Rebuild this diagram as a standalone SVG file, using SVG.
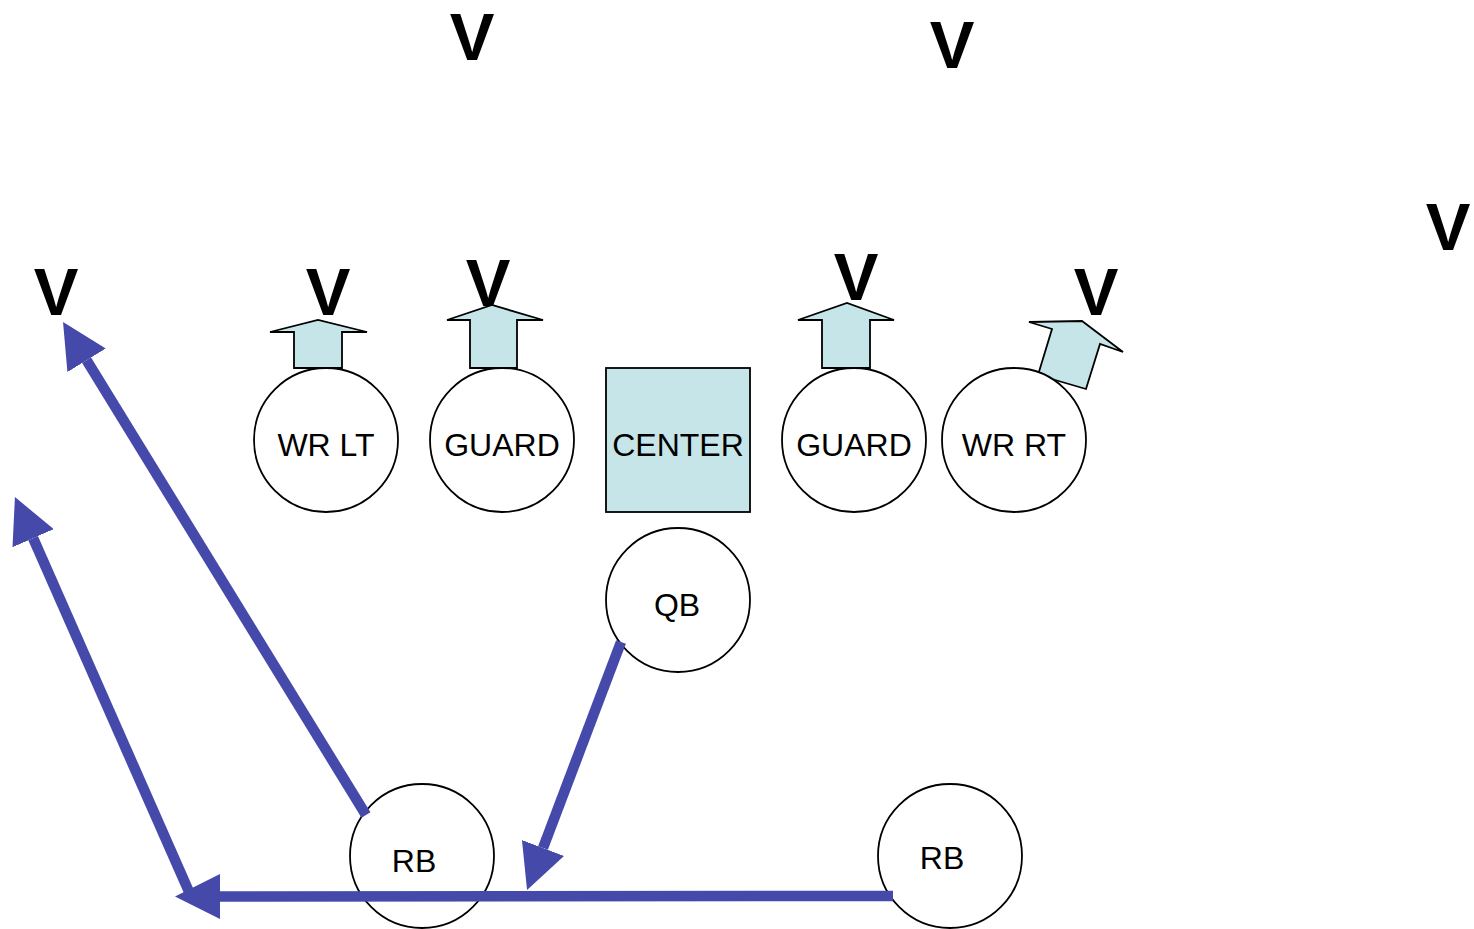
<svg xmlns="http://www.w3.org/2000/svg" width="1474" height="929" viewBox="0 0 1474 929">
<style>
.node{fill:#ffffff;stroke:#000000;stroke-width:1.8}
.box{fill:#C6E5E8;stroke:#000000;stroke-width:1.8}
.blk{fill:#C6E5E8;stroke:#000000;stroke-width:1.8;stroke-linejoin:miter}
.lbl{font-family:"Liberation Sans",Arial,sans-serif;font-size:32px;fill:#000000;text-anchor:middle}
.v{font-family:"Liberation Sans",Arial,sans-serif;font-size:67px;font-weight:bold;fill:#000000;text-anchor:middle}
.run{fill:none;stroke:#4449AA;stroke-width:10.5;marker-end:url(#ah)}
</style>
<defs>
<marker id="ah" markerUnits="userSpaceOnUse" markerWidth="45" markerHeight="45" viewBox="0 0 45 45" refX="0" refY="22.5" orient="auto">
<path d="M0,0 L45,22.5 L0,45 z" fill="#4449AA"/>
</marker>
</defs>
<g id="defenders">
<text class="v" x="472" y="60">V</text>
<text class="v" x="952" y="68">V</text>
<text class="v" x="1448" y="250">V</text>
<text class="v" x="56" y="315">V</text>
<text class="v" x="328" y="315">V</text>
<text class="v" x="488" y="306">V</text>
<text class="v" x="856" y="300">V</text>
<text class="v" x="1096" y="315">V</text>
</g>
<g id="block-arrows">
<polygon class="blk" points="294,368 294,332 270,332 318,320 367,332 342,332 342,368"/>
<polygon class="blk" points="470,368 470,320 447,320 492,305 543,320 517,320 517,368"/>
<polygon class="blk" points="822,368 822,320 798,320 847,303 894,320 870,320 870,368"/>
<polygon class="blk" points="1038,375 1052,329 1029,322 1082,321 1123,352 1100,344 1086,389"/>
</g>
<g id="wr-lt"><circle class="node" cx="326" cy="440" r="72"/><text class="lbl" x="326" y="456">WR LT</text></g>
<g id="guard-left"><circle class="node" cx="502" cy="440" r="72"/><text class="lbl" x="502" y="456">GUARD</text></g>
<g id="center"><rect class="box" x="606" y="368" width="144" height="144"/><text class="lbl" x="678" y="456">CENTER</text></g>
<g id="guard-right"><circle class="node" cx="854" cy="440" r="72"/><text class="lbl" x="854" y="456">GUARD</text></g>
<g id="wr-rt"><circle class="node" cx="1014" cy="440" r="72"/><text class="lbl" x="1014" y="456">WR RT</text></g>
<g id="qb"><circle class="node" cx="678" cy="600" r="72"/><text class="lbl" x="677" y="616">QB</text></g>
<g id="rb-left"><circle class="node" cx="422" cy="856" r="72"/><text class="lbl" x="414" y="872">RB</text></g>
<g id="rb-right"><circle class="node" cx="950" cy="856" r="72"/><text class="lbl" x="942" y="869">RB</text></g>
<g id="connectors">
<line class="run" x1="366" y1="815" x2="86.6" y2="360.3"/>
<line class="run" x1="893" y1="896" x2="220" y2="896.5"/>
<line class="run" x1="190" y1="894" x2="33.1" y2="538.2"/>
<line class="run" x1="621" y1="642" x2="543" y2="848"/>
</g>
</svg>
